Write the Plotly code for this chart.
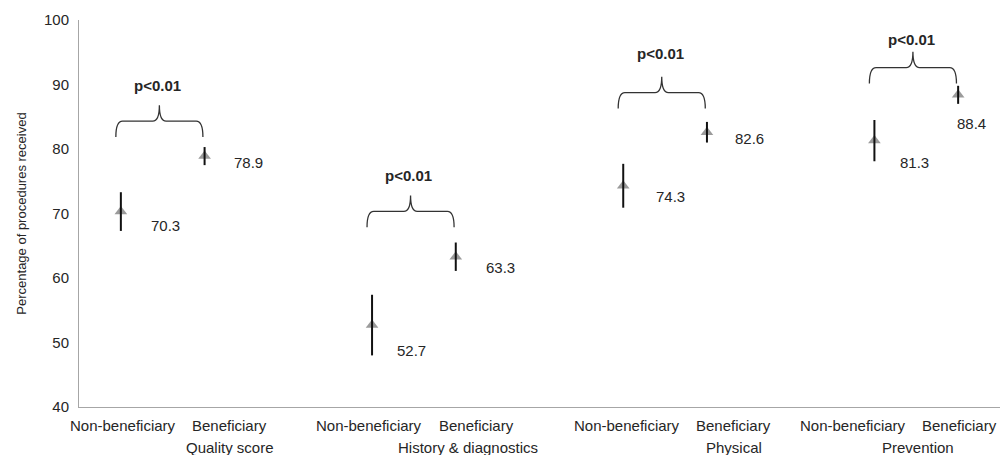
import plotly.graph_objects as go

# ---------------- data ----------------
groups = ["Quality score", "History & diagnostics", "Physical", "Prevention"]
subgroups = ["Non-beneficiary", "Beneficiary"]
non_ben = [70.3, 52.7, 74.3, 81.3]
ben = [78.9, 63.3, 82.6, 88.4]
non_ben_err = [3.0, 4.7, 3.4, 3.2]
ben_err = [1.4, 2.2, 1.6, 1.4]
p_labels = ["p<0.01", "p<0.01", "p<0.01", "p<0.01"]
y_ticks = [40, 50, 60, 70, 80, 90, 100]

# ---------------- layout helpers ----------------
FONT = "Liberation Sans, Arial, sans-serif"
TXT = "#262626"
SLOTS = 3  # NB, B, blank per group

xs, ys, errs = [], [], []
for g in range(len(groups)):
    for s, (v, e) in enumerate([(non_ben[g], non_ben_err[g]), (ben[g], ben_err[g])]):
        xs.append(g * SLOTS + s)
        ys.append(v)
        errs.append(e)

# label offsets (slots, units) for value labels
lab_dx = [0.53, 0.53, 0.47, 0.53, 0.56, 0.51, 0.48, 0.16]
lab_dy = [-2.17, -0.93, -3.89, -1.65, -1.61, -0.99, -3.33, -4.46]
# bracket base heights & p-label heights
br_base = [81.86, 67.87, 86.27, 90.16]
p_y = [89.9, 75.9, 94.8, 96.9]
# category-label x offsets (slots)
nb_dx = [0.02, -0.04, 0.05, -0.25]
b_dx = [0.30, 0.25, 0.32, 0.02]
grp_dx = [1.30, 1.15, 1.32, 0.52]

fig = go.Figure()
fig.add_trace(go.Scatter(
    x=xs, y=ys, mode="markers",
    marker=dict(symbol="triangle-up", size=11, color="#9b9b9b", line=dict(width=0)),
    hoverinfo="skip", showlegend=False))
fig.add_trace(go.Scatter(
    x=xs, y=ys, mode="markers",
    marker=dict(size=1, opacity=0),
    error_y=dict(type="data", array=errs, visible=True, color="#111111", thickness=2, width=0),
    hoverinfo="skip", showlegend=False))

ann = []
for i, (x, v) in enumerate(zip(xs, ys)):
    ann.append(dict(x=x + lab_dx[i], y=v + lab_dy[i], xref="x", yref="y",
                    text=f"{v:.1f}", showarrow=False, xanchor="center", yanchor="middle",
                    font=dict(family=FONT, size=15, color=TXT)))

shapes = []
H = 4.93
for g in range(len(groups)):
    L = g * SLOTS - 0.06
    R = g * SLOTS + 0.98
    C = g * SLOTS + 0.46
    b = br_base[g]
    h = b + H / 2
    t = b + H
    d = 0.08
    path = (f"M {L},{b} Q {L},{h} {L+d},{h} L {C-d},{h} Q {C},{h} {C},{t} "
            f"Q {C},{h} {C+d},{h} L {R-d},{h} Q {R},{h} {R},{b}")
    shapes.append(dict(type="path", path=path, xref="x", yref="y",
                       line=dict(color="#333333", width=1.3)))
    ann.append(dict(x=g * SLOTS + 0.44, y=p_y[g], xref="x", yref="y",
                    text=f"<b>{p_labels[g]}</b>", showarrow=False,
                    xanchor="center", yanchor="middle",
                    font=dict(family=FONT, size=15, color=TXT)))
    for s, name in enumerate(subgroups):
        dx = nb_dx[g] if s == 0 else b_dx[g]
        ann.append(dict(x=g * SLOTS + s + dx, y=0, xref="x", yref="paper",
                        text=name, showarrow=False, xanchor="center", yanchor="middle",
                        yshift=-18, font=dict(family=FONT, size=15, color=TXT)))
    ann.append(dict(x=g * SLOTS + grp_dx[g], y=0, xref="x", yref="paper",
                    text=groups[g], showarrow=False, xanchor="center", yanchor="middle",
                    yshift=-40, font=dict(family=FONT, size=15, color=TXT)))

fig.update_layout(
    width=1001, height=455,
    margin=dict(l=79, r=1, t=20, b=48, autoexpand=False),
    paper_bgcolor="white", plot_bgcolor="white",
    annotations=ann, shapes=shapes,
    xaxis=dict(range=[-0.5, 10.5], showgrid=False, zeroline=False, showticklabels=False,
               showline=True, linecolor="#a6a6a6", linewidth=1, ticks=""),
    yaxis=dict(range=[40, 100], tickvals=y_ticks, showgrid=False, zeroline=False,
               showline=True, linecolor="#a6a6a6", linewidth=1, ticks="",
               ticklabelstandoff=6,
               tickfont=dict(family=FONT, size=15, color=TXT),
               title=dict(text="Percentage of procedures received", standoff=14,
                          font=dict(family=FONT, size=13, color=TXT))),
)

fig.write_html("out.html", config={"displayModeBar": False},
               post_script="document.body.style.margin='0px';document.body.style.overflow='hidden';")
